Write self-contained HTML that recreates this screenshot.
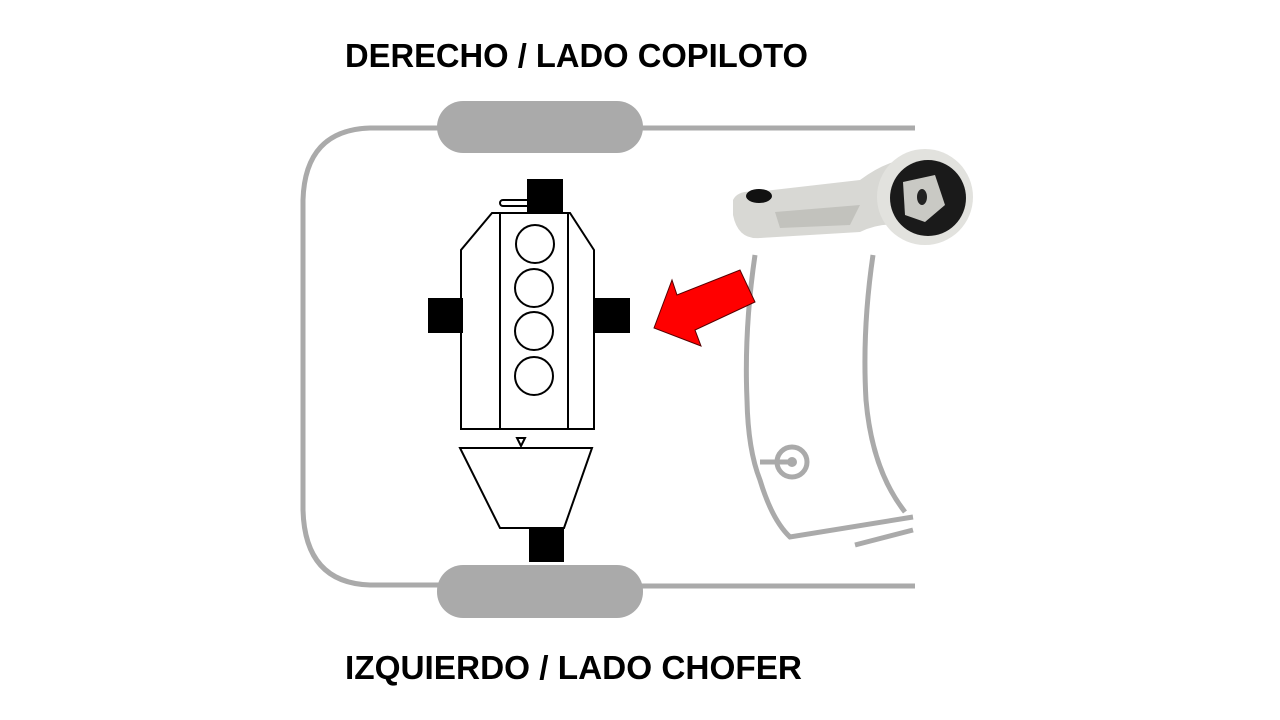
<!DOCTYPE html>
<html><head><meta charset="utf-8"><style>
html,body{margin:0;padding:0;background:#fff;width:1280px;height:720px;overflow:hidden}
</style></head><body>
<svg width="1280" height="720" viewBox="0 0 1280 720" xmlns="http://www.w3.org/2000/svg">
<rect width="1280" height="720" fill="#fff"/>
<text x="345" y="67" font-family="Liberation Sans, sans-serif" font-weight="bold" font-size="33" textLength="463" lengthAdjust="spacingAndGlyphs" fill="#000">DERECHO / LADO COPILOTO</text>
<text x="345" y="679" font-family="Liberation Sans, sans-serif" font-weight="bold" font-size="33" textLength="457" lengthAdjust="spacingAndGlyphs" fill="#000">IZQUIERDO / LADO CHOFER</text>
<g fill="none" stroke="#aaa" stroke-width="5">
<path d="M440 128 L370 128 Q305 130 303 200 L303 510 Q305 583 370 585 L440 585"/>
<line x1="640" y1="128" x2="915" y2="128"/>
<line x1="640" y1="586" x2="915" y2="586"/>
<path d="M755 255 Q744 330 747 400 Q748 450 760 480 Q772 520 790 537 L913 517"/>
<path d="M873 255 Q862 330 866 400 Q872 470 905 512"/>
<path d="M855 545 L913 530"/>
<circle cx="792" cy="462" r="15"/>
<line x1="760" y1="462" x2="792" y2="462"/>
</g>
<circle cx="792" cy="462" r="5" fill="#aaa"/>
<rect x="437" y="101" width="206" height="52" rx="26" fill="#aaa"/>
<rect x="437" y="565" width="206" height="53" rx="26" fill="#aaa"/>
<g stroke="#000" stroke-width="2" fill="#fff">
<rect x="500" y="200" width="30" height="6" rx="3"/>
<path d="M492 213 L570 213 L594 250 L594 429 L461 429 L461 250 Z"/>
<line x1="500" y1="213" x2="500" y2="429"/>
<line x1="568" y1="213" x2="568" y2="429"/>
<circle cx="535" cy="244" r="19"/>
<circle cx="534" cy="288" r="19"/>
<circle cx="534" cy="331" r="19"/>
<circle cx="534" cy="376" r="19"/>
<path d="M460 448 L592 448 L564 528 L500 528 Z"/>
<path d="M517 438 L525 438 L521 446 Z"/>
</g>
<g fill="#000">
<rect x="527" y="179" width="36" height="34"/>
<rect x="428" y="298" width="35" height="35"/>
<rect x="595" y="298" width="35" height="35"/>
<rect x="529" y="528" width="35" height="34"/>
</g>
<path d="M654 328 L672 280 L677 295 L740 270 L755 302 L695 330 L701 346 Z" fill="#f00" stroke="#500" stroke-width="1"/>
<g>
<path d="M733 200 Q738 190 755 192 L860 180 Q880 165 900 160 L905 225 Q880 222 860 232 L760 238 Q738 240 733 215 Z" fill="#d8d8d4"/>
<path d="M775 212 L860 205 L850 225 L780 228 Z" fill="#c2c2bd"/>
<circle cx="925" cy="197" r="48" fill="#e2e2de"/>
<circle cx="928" cy="198" r="38" fill="#1a1a1a"/>
<path d="M903 182 L935 175 L945 205 L925 222 L905 215 Z" fill="#c9c9c4"/>
<ellipse cx="922" cy="197" rx="5" ry="8" fill="#222"/>
<ellipse cx="759" cy="196" rx="13" ry="7" fill="#111"/>
</g>
</svg>
</body></html>
